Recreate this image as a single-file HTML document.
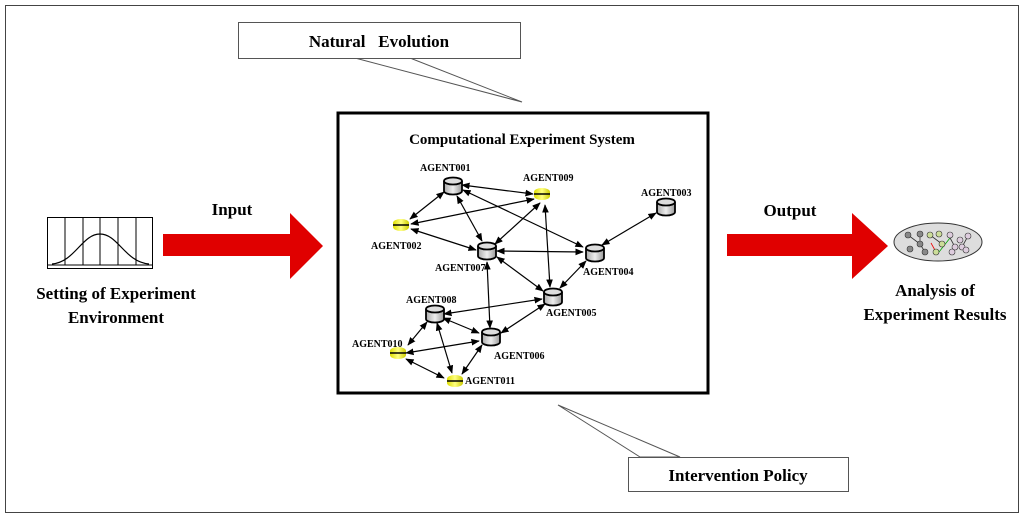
<!DOCTYPE html>
<html><head><meta charset="utf-8"><style>
body{margin:0;background:#fff}
text{font-family:"Liberation Serif",serif;font-weight:bold;fill:#000}
</style></head><body>
<svg width="1024" height="517" viewBox="0 0 1024 517" xmlns="http://www.w3.org/2000/svg">
<defs>
<marker id="a" viewBox="0 0 10 10" refX="9" refY="5" markerWidth="7" markerHeight="7" orient="auto-start-reverse"><path d="M0,1 L10,5 L0,9 z" fill="#000"/></marker>
<linearGradient id="g" x1="0" x2="1"><stop offset="0" stop-color="#aaa"/><stop offset=".5" stop-color="#eee"/><stop offset="1" stop-color="#999"/></linearGradient>
<linearGradient id="y" x1="0" x2="1"><stop offset="0" stop-color="#dd0"/><stop offset=".5" stop-color="#ffff80"/><stop offset="1" stop-color="#cc0"/></linearGradient>
<symbol id="c" viewBox="0 0 20 18" overflow="visible"><path d="M1,4 v10 a9,3.5 0 0 0 18,0 v-10" fill="url(#g)" stroke="#000" stroke-width="1.8"/><ellipse cx="10" cy="4" rx="9" ry="3.5" fill="#ddd" stroke="#000" stroke-width="1.8"/></symbol>
<symbol id="d" viewBox="0 0 20 14" overflow="visible"><ellipse cx="10" cy="9" rx="8" ry="4" fill="url(#y)"/><rect x="2" y="5" width="16" height="4" fill="url(#y)"/><ellipse cx="10" cy="5" rx="8" ry="4" fill="url(#y)"/><line x1="2" y1="7" x2="18" y2="7" stroke="#000" stroke-width="1.5"/></symbol>
</defs>
<rect x="5.5" y="5.5" width="1013" height="507" fill="none" stroke="#444" stroke-width="1"/>
<!-- callouts -->
<polygon points="355,58 522,102 410,58" fill="#fff" stroke="#555"/>
<rect x="238.5" y="22.5" width="282" height="36" fill="#fff" stroke="#555"/>
<text x="379" y="47" font-size="17" text-anchor="middle">Natural&#160;&#160;&#160;Evolution</text>
<polygon points="558,405 680,457 640,457" fill="#fff" stroke="#555"/>
<rect x="628.5" y="457.5" width="220" height="34" fill="#fff" stroke="#555"/>
<text x="738" y="481" font-size="17" text-anchor="middle">Intervention Policy</text>
<!-- main box -->
<rect x="338" y="113" width="370" height="280" fill="#fff" stroke="#000" stroke-width="3"/>
<text x="522" y="144" font-size="15" text-anchor="middle">Computational Experiment System</text>
<g stroke="#000" stroke-width="1.2" marker-start="url(#a)" marker-end="url(#a)" fill="none">
<line x1="462" y1="185" x2="533" y2="194"/>
<line x1="444" y1="192" x2="410" y2="219"/>
<line x1="457" y1="196" x2="482" y2="241"/>
<line x1="463" y1="190" x2="583" y2="247"/>
<line x1="534" y1="199" x2="411" y2="224"/>
<line x1="540" y1="203" x2="495" y2="244"/>
<line x1="545" y1="205" x2="550" y2="287"/>
<line x1="411" y1="229" x2="476" y2="250"/>
<line x1="497" y1="251" x2="583" y2="252"/>
<line x1="497" y1="257" x2="543" y2="291"/>
<line x1="602" y1="245" x2="656" y2="213"/>
<line x1="586" y1="261" x2="560" y2="288"/>
<line x1="487" y1="262" x2="490" y2="328"/>
<line x1="542" y1="299" x2="444" y2="314"/>
<line x1="545" y1="304" x2="501" y2="333"/>
<line x1="443" y1="318" x2="479" y2="333"/>
<line x1="427" y1="322" x2="408" y2="345"/>
<line x1="437" y1="323" x2="452" y2="373"/>
<line x1="479" y1="341" x2="406" y2="353"/>
<line x1="406" y1="359" x2="444" y2="378"/>
<line x1="482" y1="345" x2="462" y2="374"/>
</g>
<g>
<use href="#c" x="443" y="177" width="20" height="18"/>
<use href="#d" x="532" y="187" width="20" height="14"/>
<use href="#d" x="391" y="218" width="20" height="14"/>
<use href="#c" x="477" y="242" width="20" height="18"/>
<use href="#c" x="585" y="244" width="20" height="18"/>
<use href="#c" x="656" y="198" width="20" height="18"/>
<use href="#c" x="543" y="288" width="20" height="18"/>
<use href="#c" x="425" y="305" width="20" height="18"/>
<use href="#c" x="481" y="328" width="20" height="18"/>
<use href="#d" x="388" y="346" width="20" height="14"/>
<use href="#d" x="445" y="374" width="20" height="14"/>
</g>
<g font-size="10">
<text x="420" y="171">AGENT001</text>
<text x="523" y="181">AGENT009</text>
<text x="641" y="196">AGENT003</text>
<text x="371" y="249">AGENT002</text>
<text x="435" y="271">AGENT007</text>
<text x="583" y="275">AGENT004</text>
<text x="546" y="316">AGENT005</text>
<text x="406" y="303">AGENT008</text>
<text x="352" y="347">AGENT010</text>
<text x="494" y="359">AGENT006</text>
<text x="465" y="384">AGENT011</text>
</g>
<!-- left icon -->
<g stroke="#000" stroke-width="1" fill="none">
<rect x="47.5" y="217.5" width="105" height="51"/>
<line x1="47" y1="265" x2="153" y2="265"/>
<line x1="65" y1="217" x2="65" y2="265"/><line x1="83" y1="217" x2="83" y2="265"/><line x1="100" y1="217" x2="100" y2="265"/><line x1="118" y1="217" x2="118" y2="265"/><line x1="136" y1="217" x2="136" y2="265"/>
<path d="M52,264 C75,262 82,234 100,234 C118,234 125,262 149,264" stroke-width="1.2"/>
</g>
<text x="116" y="299" font-size="17" text-anchor="middle">Setting of Experiment</text>
<text x="116" y="323" font-size="17" text-anchor="middle">Environment</text>
<text x="232" y="215" font-size="17" text-anchor="middle">Input</text>
<polygon points="163,234 290,234 290,213 323,246 290,279 290,256 163,256" fill="#e00000"/>
<text x="790" y="216" font-size="17" text-anchor="middle">Output</text>
<polygon points="727,234 852,234 852,213 888,246 852,279 852,256 727,256" fill="#e00000"/>
<!-- right icon -->
<ellipse cx="938" cy="242" rx="44" ry="19" fill="#ddd" stroke="#333" stroke-width="1"/>
<g stroke="#333" stroke-width="0.8">
<line x1="908" y1="235" x2="920" y2="244"/><line x1="920" y1="244" x2="925" y2="252"/><line x1="920" y1="244" x2="920" y2="234"/>
<line x1="930" y1="235" x2="942" y2="244"/><line x1="949" y1="236" x2="955" y2="247"/><line x1="962" y1="247" x2="968" y2="236"/>
<line x1="931" y1="243" x2="936" y2="252" stroke="#e00"/><line x1="939" y1="252" x2="950" y2="238" stroke="#0a0"/>
</g>
<g stroke="#333" stroke-width="0.6">
<circle cx="908" cy="235" r="3" fill="#888"/><circle cx="920" cy="234" r="3" fill="#888"/><circle cx="920" cy="244" r="3" fill="#888"/><circle cx="910" cy="249" r="3" fill="#888"/><circle cx="925" cy="252" r="3" fill="#888"/>
<circle cx="930" cy="235" r="3" fill="#cd9"/><circle cx="939" cy="234" r="3" fill="#cd9"/><circle cx="942" cy="244" r="3" fill="#cd9"/><circle cx="936" cy="252" r="3" fill="#cd9"/>
<circle cx="950" cy="235" r="3" fill="#dcd"/><circle cx="955" cy="247" r="3" fill="#dcd"/><circle cx="960" cy="240" r="3" fill="#dcd"/><circle cx="968" cy="236" r="3" fill="#dcd"/><circle cx="962" cy="247" r="3" fill="#dcd"/><circle cx="952" cy="252" r="3" fill="#dcd"/><circle cx="966" cy="250" r="3" fill="#dcd"/>
</g>
<text x="935" y="296" font-size="17" text-anchor="middle">Analysis of</text>
<text x="935" y="320" font-size="17" text-anchor="middle">Experiment Results</text>
</svg>
</body></html>
